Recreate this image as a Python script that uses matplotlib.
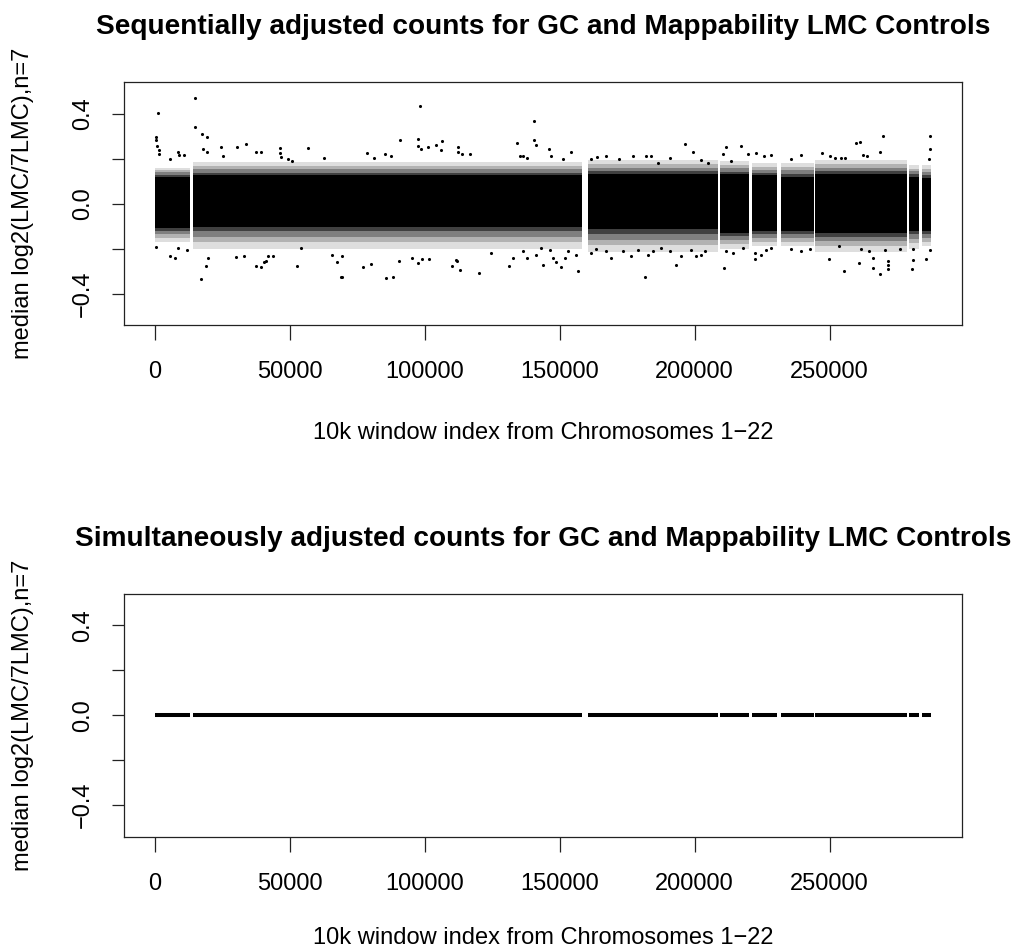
import matplotlib
matplotlib.use("Agg")
import matplotlib.pyplot as plt

# ---------------- data ----------------
# contiguous blocks of 10k windows (gaps = excluded regions)
seg_start = [0, 14100, 160400, 209300, 221100, 232200, 244800, 279300, 284300]
seg_end   = [12900, 158300, 208700, 220000, 230700, 244100, 278700, 283300, 287500]

# dense core of the point cloud per block (top panel)
core_lo   = [-0.110, -0.105, -0.115, -0.130, -0.120, -0.120, -0.130, -0.120, -0.120]
core_hi   = [0.120, 0.125, 0.130, 0.130, 0.125, 0.120, 0.130, 0.120, 0.115]
# speckled fringe around the core
fringe_lo = [-0.170, -0.200, -0.215, -0.200, -0.190, -0.190, -0.215, -0.200, -0.190]
fringe_hi = [0.160, 0.185, 0.195, 0.190, 0.180, 0.180, 0.195, 0.170, 0.170]

# isolated outlying windows (top panel)
outlier_x = [
    1230, 300, 300, 850, 1480, 1480, 5560, 8400, 9000, 10850, 14815, 14815, 17300, 19150,
    17900, 19150, 24440, 25070, 30250, 33700, 37300, 39150, 46300, 46300, 46600, 49370,
    50600, 56780, 62600,
    300, 5560, 7400, 8500, 11850, 17000, 18900, 19700, 30000, 32960, 37300, 39150, 40480,
    41000, 41750, 43800, 52480, 54070, 65440, 67300, 68900,
    98400, 140480, 90740, 97300, 97500, 98500, 101200, 104300, 106200, 105900, 112300,
    112300, 113600, 116700, 134200, 135200, 136400, 137700, 140480, 141370, 78600, 81200,
    85400, 87400,
    69150, 69150, 77150, 79900, 85560, 88260, 90480, 95070, 98780, 101600, 97500, 109900,
    111740, 112960, 112000, 120100, 124700, 131200, 132700, 136400, 138000, 141370,
    145900, 146700, 154300, 151200, 161500, 164000, 167300, 172000, 177150, 182100, 183950,
    186400, 190700, 196300, 199400, 202500, 204900, 210500, 211700, 213600,
    143200, 143800, 146300, 147500, 148800, 150600, 151850, 153100, 156200, 156800, 161500,
    163600, 167300, 169150, 173450, 176550, 179000, 181480, 182700, 184550, 187650, 190740,
    193200, 195070, 198770, 200630, 202500, 203700, 210850, 211740,
    217300, 219750, 222850, 225900, 228400, 235560, 239500, 247300, 250000, 252200, 254100,
    255900, 259640, 261370, 262600, 263800, 270000, 268780, 287300, 287300, 287000,
    214200, 217900, 222200, 222200, 224700, 226600, 228400, 235800, 239500, 242600, 249750,
    253700, 255300, 261100, 261700, 264800, 266050, 266300, 268800, 270700, 271600, 271600,
    271600, 276200, 280850, 280850, 280600, 285800, 287300,
]
outlier_y = [
    0.402, 0.294, 0.283, 0.256, 0.237, 0.219, 0.200, 0.229, 0.216, 0.216, 0.469, 0.338, 0.308, 0.294,
    0.241, 0.229, 0.252, 0.209, 0.252, 0.264, 0.231, 0.229, 0.246, 0.223, 0.207, 0.197,
    0.189, 0.246, 0.204,
    -0.195, -0.235, -0.243, -0.198, -0.206, -0.335, -0.276, -0.243, -0.238, -0.232, -0.276, -0.280, -0.258,
    -0.255, -0.235, -0.235, -0.276, -0.198, -0.228, -0.258, -0.325,
    0.435, 0.368, 0.282, 0.286, 0.256, 0.241, 0.252, 0.259, 0.278, 0.237, 0.253,
    0.227, 0.219, 0.219, 0.271, 0.211, 0.211, 0.204, 0.283, 0.259, 0.223, 0.204,
    0.219, 0.211,
    -0.235, -0.325, -0.280, -0.270, -0.332, -0.328, -0.255, -0.243, -0.246, -0.246, -0.265, -0.276,
    -0.250, -0.295, -0.255, -0.307, -0.220, -0.276, -0.243, -0.213, -0.243, -0.228,
    0.244, 0.211, 0.231, 0.200, 0.200, 0.207, 0.211, 0.200, 0.210, 0.211, 0.209,
    0.182, 0.201, 0.264, 0.229, 0.195, 0.182, 0.222, 0.252, 0.189,
    -0.198, -0.273, -0.206, -0.243, -0.258, -0.280, -0.243, -0.213, -0.228, -0.300, -0.220,
    -0.200, -0.213, -0.243, -0.213, -0.235, -0.206, -0.325, -0.228, -0.213, -0.198, -0.213,
    -0.273, -0.235, -0.206, -0.235, -0.228, -0.213, -0.287, -0.213,
    0.256, 0.219, 0.223, 0.211, 0.216, 0.197, 0.216, 0.223, 0.211, 0.204, 0.204,
    0.201, 0.271, 0.274, 0.215, 0.211, 0.301, 0.227, 0.298, 0.244, 0.200,
    -0.220, -0.198, -0.247, -0.220, -0.228, -0.206, -0.198, -0.200, -0.213, -0.200, -0.247,
    -0.190, -0.298, -0.265, -0.200, -0.213, -0.240, -0.285, -0.313, -0.206, -0.255, -0.273,
    -0.290, -0.200, -0.200, -0.250, -0.290, -0.247, -0.206,
]

# simultaneously adjusted: every window is exactly 0
simul_value = 0.0

x_ticks = [0, 50000, 100000, 150000, 200000, 250000]
x_tick_labels = ["0", "50000", "100000", "150000", "200000", "250000"]
y_ticks = [-0.4, -0.2, 0.0, 0.2, 0.4]
y_tick_labels = ["\u22120.4", "", "0.0", "", "0.4"]

title_top = "Sequentially adjusted counts for GC and Mappability LMC Controls"
title_bottom = "Simultaneously adjusted counts for GC and Mappability LMC Controls"
x_label = "10k window index from Chromosomes 1\u221222"
y_label = "median log2(LMC/7LMC),n=7"

# ---------------- figure ----------------
plt.rcParams['font.family'] = ['Liberation Sans', 'DejaVu Sans']
W, H = 1027, 952
fig = plt.figure(figsize=(W / 100, H / 100), dpi=100)

left_px, right_px = 124, 961.7
panels = [(82, 325), (594, 836.7)]
xlabel_offsets = [114, 107]
axes = []
for top_px, bot_px in panels:
    ax = fig.add_axes([left_px / W, 1 - bot_px / H, (right_px - left_px) / W, (bot_px - top_px) / H])
    axes.append(ax)

N = max(seg_end)
for ax in axes:
    ax.set_xlim(-0.04 * N, 1.04 * N)
    ax.set_ylim(-0.54, 0.54)
    ax.set_xticks(x_ticks)
    ax.set_xticklabels(x_tick_labels)
    ax.set_yticks(y_ticks)
    ax.set_yticklabels(y_tick_labels, rotation=90, va='center')
    ax.tick_params(axis='x', length=10.8, width=0.9, pad=15, labelsize=17, color='#222222')
    ax.tick_params(axis='y', length=8.6, width=0.9, pad=13, labelsize=17, color='#222222')
    for sp in ax.spines.values():
        sp.set_linewidth(0.9)
        sp.set_color('#222222')

# top panel: dense cloud per block, fringe drawn as fading layers
ax1, ax2 = axes
fracs = [0.0, 0.2, 0.45, 0.7, 1.0]
alphas = [0.75, 0.5, 0.3, 0.13]
for s, e, clo, chi, flo, fhi in zip(seg_start, seg_end, core_lo, core_hi, fringe_lo, fringe_hi):
    ax1.fill_between([s, e], clo, chi, color='black', lw=0)
    for k, a in enumerate(alphas):
        h0 = chi + fracs[k] * (fhi - chi)
        h1 = chi + fracs[k + 1] * (fhi - chi)
        ax1.fill_between([s, e], h0, h1, color='black', alpha=a, lw=0)
        l0 = clo + fracs[k] * (flo - clo)
        l1 = clo + fracs[k + 1] * (flo - clo)
        ax1.fill_between([s, e], l1, l0, color='black', alpha=a, lw=0)
ax1.scatter(outlier_x, outlier_y, s=5, color='black', lw=0)

# bottom panel: all points at zero
for s, e in zip(seg_start, seg_end):
    ax2.plot([s, e], [simul_value, simul_value], color='black', lw=2.9, solid_capstyle='butt')

# texts
cx = (left_px + right_px) / 2 / W
for (top_px, bot_px), title, xo in zip(panels, [title_top, title_bottom], xlabel_offsets):
    fig.text(cx, 1 - (top_px - 48) / H, title, ha='center', va='baseline',
             fontsize=20.2, fontweight='bold')
    fig.text(cx, 1 - (bot_px + xo) / H, x_label, ha='center', va='baseline', fontsize=17)
    fig.text(22.8 / W, 1 - (top_px + bot_px) / 2 / H, y_label, ha='center', va='center',
             rotation=90, fontsize=17)

fig.savefig("out.png", dpi=100, facecolor='white')
